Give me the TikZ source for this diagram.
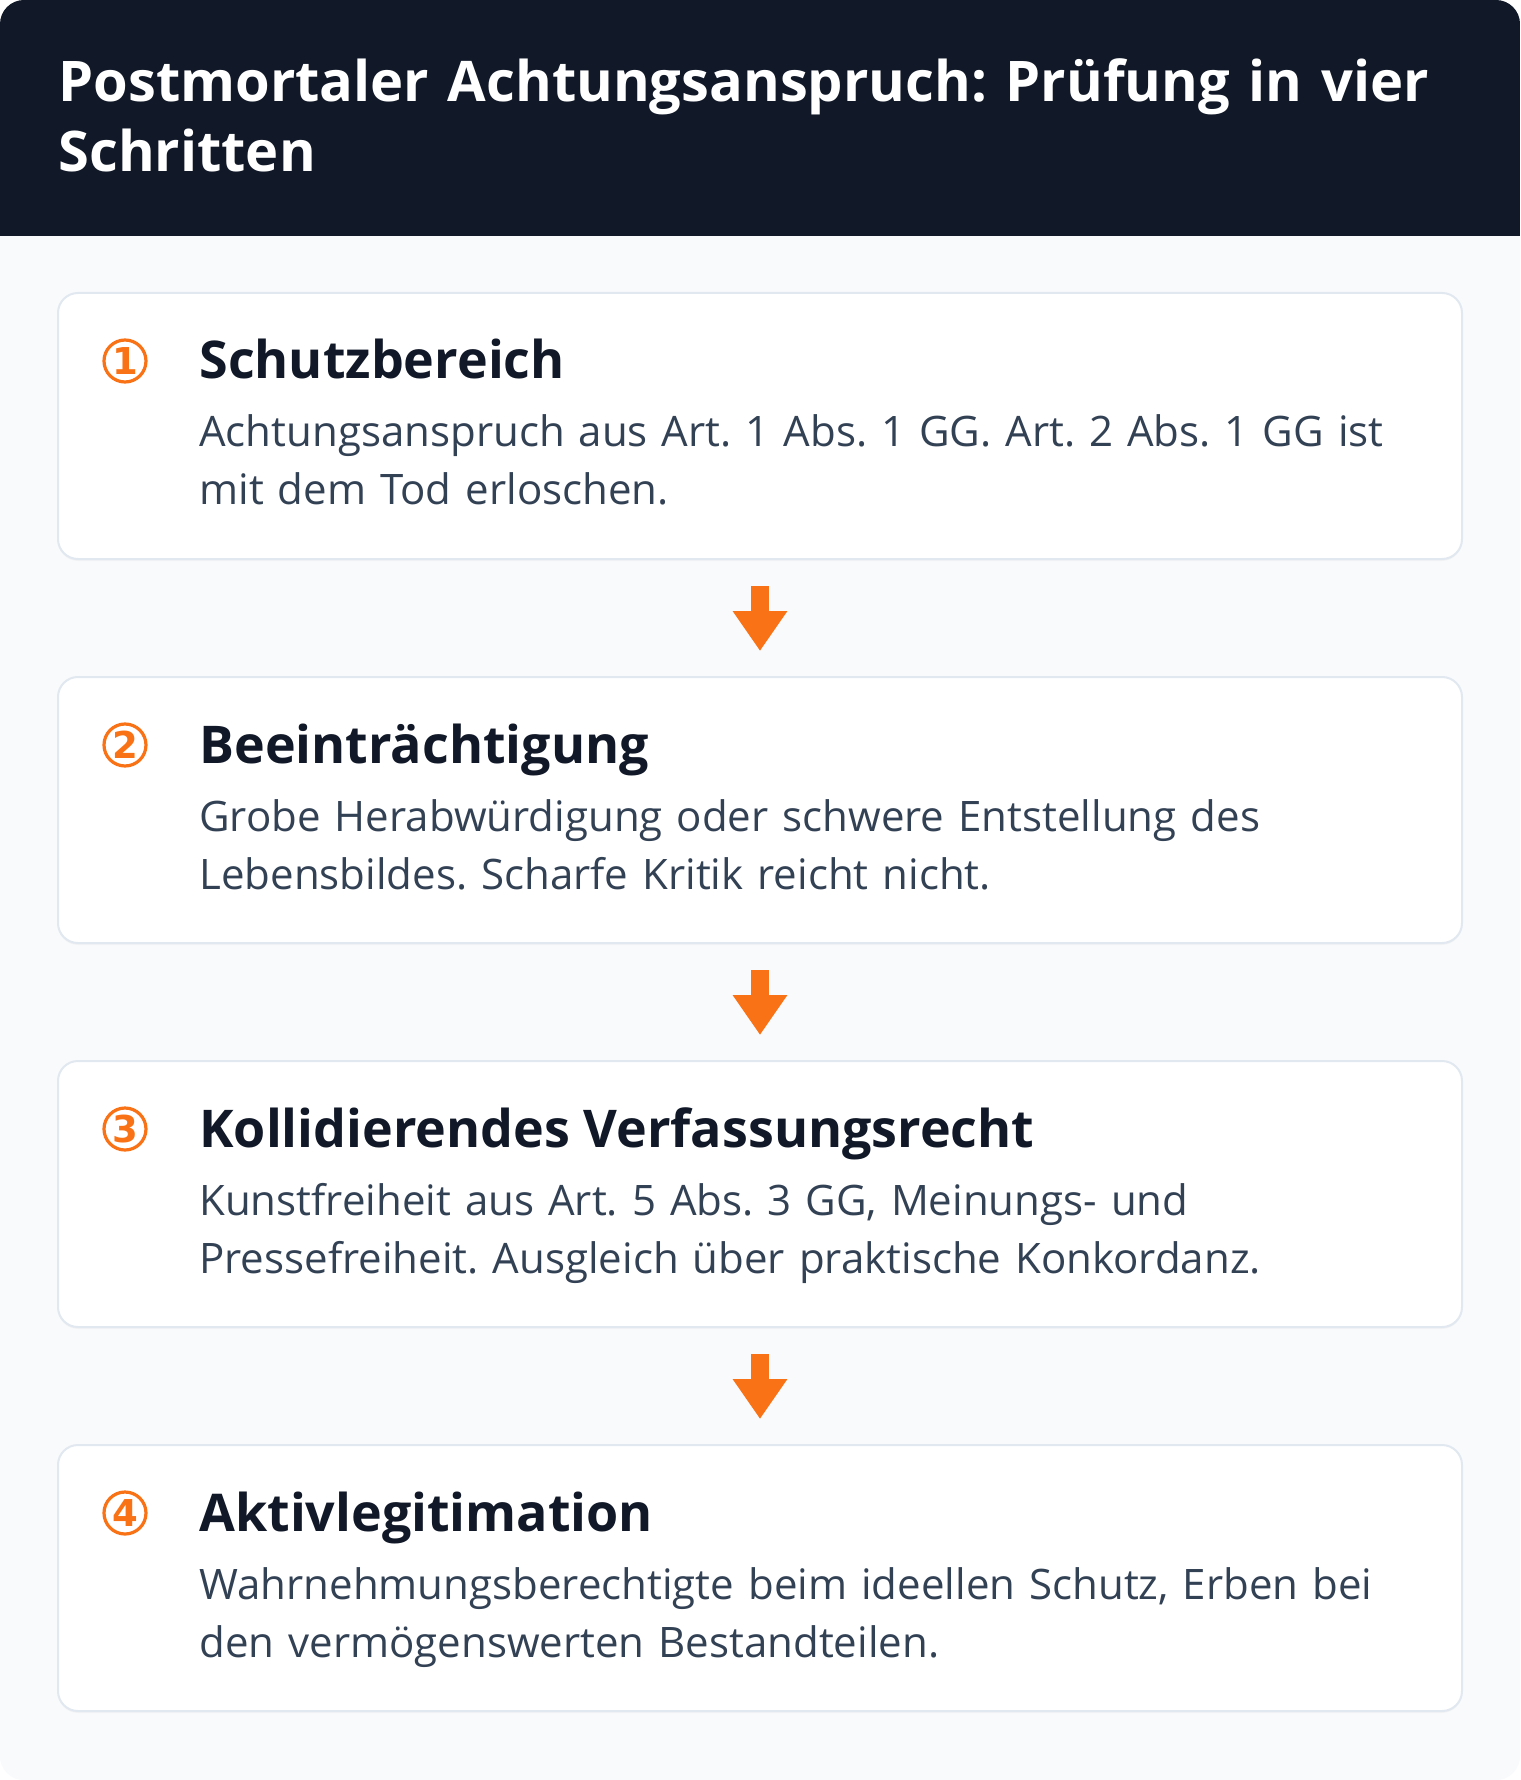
\documentclass[tikz,border=0pt]{standalone}
\usepackage{fontspec}
\setmainfont{Open Sans}
\newfontfamily\numfont{DejaVu Sans}
\usetikzlibrary{positioning}
\usetikzlibrary{arrows.meta}
\usetikzlibrary{shadows}
\definecolor{headbg}{HTML}{111827}
\definecolor{pagebg}{HTML}{F8FAFC}
\definecolor{cardline}{HTML}{E2E8F0}
\definecolor{stepink}{HTML}{111827}
\definecolor{bodyink}{HTML}{334155}
\definecolor{accent}{HTML}{F97316}
\frenchspacing
\tikzset{
        % Step cards
        stepcard/.style={rectangle, rounded corners=10pt, draw=cardline, line width=1pt, fill=white, minimum width=702pt, minimum height=133pt, inner sep=0pt,
            drop shadow={opacity=0.05, shadow xshift=0pt, shadow yshift=-1pt}},
        % Circled step numbers
        stepnum/.style={circle, accent, draw=accent, line width=1.6pt, minimum size=21pt, inner sep=0pt, font=\numfont\bfseries\fontsize{18.5pt}{18.5pt}\selectfont},
        % Step headings
        stephead/.style={stepink, font=\bfseries\fontsize{26pt}{30pt}\selectfont, inner sep=0pt, anchor=base west},
        % Step texts
        steptext/.style={bodyink, font=\fontsize{21pt}{29pt}\selectfont, inner sep=0pt, anchor=base west, text width=650pt, align=left},
        % Arrows between the cards
        flow/.style={accent, line width=9pt, -{Triangle[width=26pt,length=20pt]}, shorten <=13pt, shorten >=12.5pt}
}
\begin{document}
\begin{tikzpicture}[node distance=58pt]
    \useasboundingbox (0,0) rectangle (760pt,-890pt);
    \fill[white] (0,0) rectangle (760pt,-890pt);
    \fill[pagebg, rounded corners=12pt] (0,0) rectangle (760pt,-890pt);
    \begin{scope}
        \clip[rounded corners=12pt] (0,0) rectangle (760pt,-890pt);
        \fill[headbg] (0,0) rectangle (760pt,-118pt);
    \end{scope}
    \node[white, font=\bfseries\fontsize{28pt}{35pt}\selectfont, inner sep=0pt, anchor=base west, text width=720pt, align=left]
        (title) at (29pt,-51pt) {Postmortaler Achtungsanspruch: Prüfung in vier\\Schritten};

    % the four cards
    \node[stepcard] (s1) at (380pt,-213pt) {};
    \node[stepcard, below=of s1] (s2) {};
    \node[stepcard, below=of s2] (s3) {};
    \node[stepcard, below=of s3] (s4) {};

    \draw[flow] (s1) -- (s2);
    \draw[flow] (s2) -- (s3);
    \draw[flow] (s3) -- (s4);

    % card contents
    \node[stepnum, xshift=34pt, yshift=-34.5pt] (n1) at (s1.north west) {1};
    \node[stephead, xshift=71pt, yshift=-43.5pt] (h1) at (s1.north west) {Schutzbereich};
    \node[steptext, xshift=71pt, yshift=-77.5pt] (t1) at (s1.north west)
        {Achtungsanspruch aus Art. 1 Abs. 1 GG. Art. 2 Abs. 1 GG ist\\mit dem Tod erloschen.};

    \node[stepnum, xshift=34pt, yshift=-34.5pt] (n2) at (s2.north west) {2};
    \node[stephead, xshift=71pt, yshift=-43.5pt] (h2) at (s2.north west) {Beeinträchtigung};
    \node[steptext, xshift=71pt, yshift=-77.5pt] (t2) at (s2.north west)
        {Grobe Herabwürdigung oder schwere Entstellung des\\Lebensbildes. Scharfe Kritik reicht nicht.};

    \node[stepnum, xshift=34pt, yshift=-34.5pt] (n3) at (s3.north west) {3};
    \node[stephead, xshift=71pt, yshift=-43.5pt] (h3) at (s3.north west) {Kollidierendes Verfassungsrecht};
    \node[steptext, xshift=71pt, yshift=-77.5pt] (t3) at (s3.north west)
        {Kunstfreiheit aus Art. 5 Abs. 3 GG, Meinungs- und\\Pressefreiheit. Ausgleich über praktische Konkordanz.};

    \node[stepnum, xshift=34pt, yshift=-34.5pt] (n4) at (s4.north west) {4};
    \node[stephead, xshift=71pt, yshift=-43.5pt] (h4) at (s4.north west) {Aktivlegitimation};
    \node[steptext, xshift=71pt, yshift=-77.5pt] (t4) at (s4.north west)
        {Wahrnehmungsberechtigte beim ideellen Schutz, Erben bei\\den vermögenswerten Bestandteilen.};
\end{tikzpicture}
\end{document}
